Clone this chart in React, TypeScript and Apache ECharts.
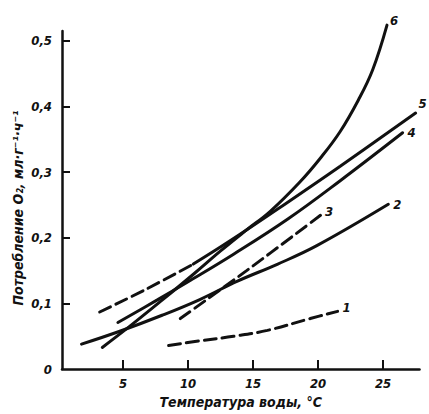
import React, { useEffect, useRef } from "react";
import * as echarts from "echarts";

const xTickValues = [5, 10, 15, 20, 25];
const yLabelValues = [0, 0.1, 0.2, 0.3, 0.4, 0.5];
const yTickValues = [0.1, 0.2, 0.3, 0.4, 0.5];

const curve1: number[][] = [[8.5, 0.036], [10.9, 0.043], [13.5, 0.05], [16.1, 0.059], [19.4, 0.077], [21.5, 0.088]];
const curve2: number[][] = [[1.8, 0.038], [4.8, 0.058], [8, 0.082], [10.9, 0.106], [13.8, 0.134], [16.9, 0.16], [19.9, 0.188], [25.4, 0.251]];
const curve3: number[][] = [[9.4, 0.077], [14.5, 0.15], [20.3, 0.236]];
const curve4: number[][] = [[4.6, 0.071], [7.6, 0.105], [10, 0.133], [13.5, 0.175], [17.7, 0.229], [21.7, 0.287], [26.5, 0.36]];
const curve5Dashed: number[][] = [[3.2, 0.087], [6.8, 0.122], [10.4, 0.16]];
const curve5Solid: number[][] = [[10.4, 0.16], [13.2, 0.195], [17.5, 0.252], [21.7, 0.309], [27.5, 0.39]];
const curve6: number[][] = [[3.4, 0.033], [5.5, 0.065], [8, 0.105], [10.5, 0.146], [12.5, 0.18], [14.5, 0.212], [16.3, 0.24], [18.6, 0.285], [20.2, 0.322], [21.7, 0.362], [23.1, 0.41], [24.2, 0.456], [25.3, 0.524]];

const labelNames = ["1", "2", "3", "4", "5", "6"];

const FONT = "'DejaVu Sans Condensed', 'Liberation Sans Narrow', 'DejaVu Sans', sans-serif";
const INK = "#111111";

export default function App() {
  const ref = useRef<HTMLDivElement>(null);
  useEffect(() => {
    const chart = echarts.init(ref.current!, null, { renderer: "svg" });
    const textStyle = { fontFamily: FONT, fontStyle: "italic" as const, fontWeight: "bold" as const, fontSize: 13, color: INK };
    const mk = (data: number[][], dashed: boolean, label: string | null, offset: number[]) => ({
      type: "line",
      data,
      smooth: 0.4,
      showSymbol: false,
      symbol: "none",
      clip: false,
      lineStyle: { color: INK, width: 3, type: dashed ? [12, 6] : "solid", cap: "round" },
      endLabel: label
        ? { show: true, formatter: label, offset, distance: 3, ...textStyle }
        : { show: false },
      emphasis: { disabled: true },
      silent: true,
    });
    chart.setOption({
      animation: false,
      backgroundColor: "#ffffff",
      grid: { left: 62, right: 9.5, top: 31, bottom: 44 },
      xAxis: {
        type: "value",
        min: 0.3,
        max: 27.8,
        name: "Температура воды, °C",
        nameLocation: "middle",
        nameGap: 24,
        nameTextStyle: { ...textStyle, fontSize: 14 },
        axisLine: { lineStyle: { color: INK, width: 2.5 } },
        axisTick: { show: true, inside: true, length: 9, customValues: xTickValues, lineStyle: { color: INK, width: 2 } },
        axisLabel: { customValues: xTickValues, margin: 8, ...textStyle },
        splitLine: { show: false },
      },
      yAxis: {
        type: "value",
        min: 0,
        max: 0.515,
        axisLine: { show: true, lineStyle: { color: INK, width: 2.5 } },
        axisTick: { show: true, inside: true, length: 8, customValues: yTickValues, lineStyle: { color: INK, width: 2 } },
        axisLabel: {
          customValues: yLabelValues,
          margin: 10,
          formatter: (v: number) => (v === 0 ? "0" : v.toFixed(1).replace(".", ",")),
          ...textStyle,
        },
        splitLine: { show: false },
      },
      graphic: [
        {
          type: "text",
          x: 18,
          y: 208,
          rotation: Math.PI / 2,
          style: {
            text: "Потребление O₂, мл·г⁻¹·ч⁻¹",
            align: "center",
            verticalAlign: "middle",
            font: `italic bold 14px ${FONT}`,
            fill: INK,
          },
        },
      ],
      series: [
        mk(curve1, true, labelNames[0], [2, -4]),
        mk(curve2, false, labelNames[1], [2, 0]),
        mk(curve3, true, labelNames[2], [0, -3]),
        mk(curve4, false, labelNames[3], [2, 0]),
        mk(curve5Dashed, true, null, [0, 0]),
        mk(curve5Solid, false, labelNames[4], [0, -10]),
        mk(curve6, false, labelNames[5], [0, -5]),
      ],
    });
    return () => chart.dispose();
  }, []);
  return <div ref={ref} style={{ position: "fixed", left: 0, top: 0, width: 429, height: 414 }} />;
}
